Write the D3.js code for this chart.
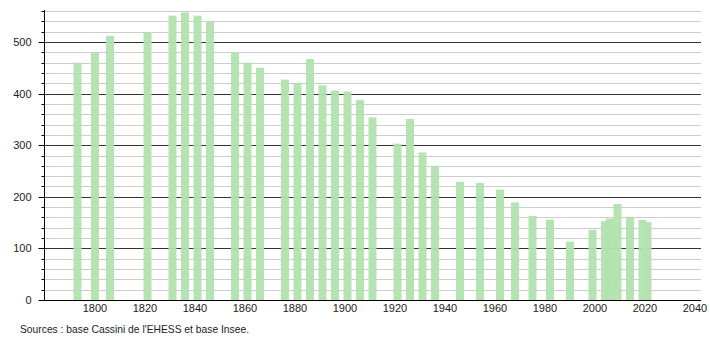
<!DOCTYPE html>
<html>
<head>
<meta charset="utf-8">
<script src="https://cdn.jsdelivr.net/npm/d3@7"></script>
<style>
  body { margin: 0; background: #fff; }
  text { font-family: "Liberation Sans", Arial, sans-serif; fill: #222; }
</style>
</head>
<body>
<script>
// census years and population
var years = [1793, 1800, 1806, 1821, 1831, 1836, 1841, 1846, 1856, 1861, 1866,
  1876, 1881, 1886, 1891, 1896, 1901, 1906, 1911, 1921, 1926, 1931, 1936,
  1946, 1954, 1962, 1968, 1975, 1982, 1990, 1999, 2004, 2006, 2009, 2014, 2019, 2021];
var population = [460, 480, 512, 518, 551, 557, 551, 540, 480, 460, 450,
  427, 421, 467, 416, 406, 404, 388, 354, 303, 351, 286, 260,
  229, 227, 214, 189, 163, 156, 113, 136, 153, 158, 186, 161, 155, 151];
var xTicks = [1800, 1820, 1840, 1860, 1880, 1900, 1920, 1940, 1960, 1980, 2000, 2020, 2040];
var yTicks = [0, 100, 200, 300, 400, 500];
var sourceText = "Sources : base Cassini de l'EHESS et base Insee.";

var svgWidth = 710, svgHeight = 340;

var svg = d3.select("body").append("svg")
    .attr("width", svgWidth)
    .attr("height", svgHeight);

// scales
var x = d3.scaleLinear().domain([1779.6, 2042.4]).range([44, 701]);
var y = d3.scaleLinear().domain([0, 560]).range([300, 11]);

// gridlines every 20, darker every 100
var grid = svg.append("g");
grid.selectAll("line")
    .data(d3.range(20, 561, 20))
    .enter()
    .append("line")
    .attr("x1", 44)
    .attr("x2", 701)
    .attr("y1", d => Math.round(y(d)) + 0.5)
    .attr("y2", d => Math.round(y(d)) + 0.5)
    .attr("stroke", d => d % 100 === 0 ? "#333" : "#ccc")
    .attr("stroke-width", 1);

// bars
var half = 1.6;
svg.append("g").selectAll("rect")
    .data(years)
    .enter()
    .append("rect")
    .attr("x", d => x(d - half))
    .attr("width", d => x(d + half) - x(d - half))
    .attr("y", (d, i) => y(population[i]))
    .attr("height", (d, i) => y(0) - y(population[i]))
    .attr("fill", "#b1e3ae")
    .attr("fill-opacity", 0.95);

// y axis with minor ticks
var yAxisG = svg.append("g").attr("transform", "translate(44.5,0)");
yAxisG.append("line")
    .attr("y1", 10).attr("y2", 300.5)
    .attr("stroke", "#000");
yAxisG.selectAll("line.minor")
    .data(d3.range(0, 561, 20))
    .enter()
    .append("line")
    .attr("class", "minor")
    .attr("x1", d => d % 100 === 0 ? -6 : -3)
    .attr("x2", 0)
    .attr("y1", d => Math.round(y(d)) + 0.5)
    .attr("y2", d => Math.round(y(d)) + 0.5)
    .attr("stroke", "#000");
yAxisG.selectAll("text")
    .data(yTicks)
    .enter()
    .append("text")
    .attr("x", -13)
    .attr("y", d => y(d) + 4)
    .attr("text-anchor", "end")
    .style("font-size", "11px")
    .text(d => d);

// x axis
svg.append("line")
    .attr("x1", 44).attr("x2", 701)
    .attr("y1", 300.5).attr("y2", 300.5)
    .attr("stroke", "#000");
svg.append("g").selectAll("text")
    .data(xTicks)
    .enter()
    .append("text")
    .attr("x", d => x(d))
    .attr("y", 312)
    .attr("text-anchor", "middle")
    .style("font-size", "11px")
    .text(d => d);

// source note
svg.append("text")
    .attr("x", 20)
    .attr("y", 333)
    .style("font-size", "10.4px")
    .attr("textLength", 229)
    .attr("lengthAdjust", "spacingAndGlyphs")
    .text(sourceText);
</script>
</body>
</html>
